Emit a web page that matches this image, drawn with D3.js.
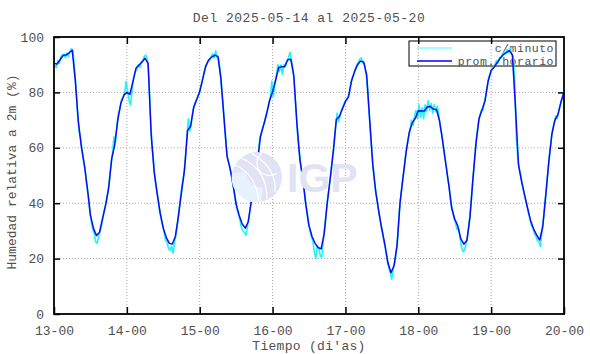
<!DOCTYPE html>
<html>
<head>
<meta charset="utf-8">
<script src="https://cdn.jsdelivr.net/npm/d3@7"></script>
<style>
  body { margin: 0; background: #fff; }
  text { font-family: "Liberation Mono", "DejaVu Sans Mono", monospace; }
</style>
</head>
<body>
<div id="app"></div>
<script>
(function (d3) {
  'use strict'

  // etiquetas de los ejes
  const ticksX = ['13-00', '14-00', '15-00', '16-00', '17-00', '18-00', '19-00', '20-00']
  const ticksY = [0, 20, 40, 60, 80, 100]

  // promedio horario (un valor por hora, 00..23)
  const horario13 = [90.5, 90.2, 91.8, 93.3, 93.5, 94.3, 95.2, 84.5, 69.6, 60.5, 53.8, 45.4, 35.7, 30.9, 28.3, 29.5, 34.5, 39.3, 45.4, 56, 61, 70, 76, 79]
  const horario14 = [80, 79.3, 83.9, 88.7, 89.9, 91, 92.3, 90.5, 65, 51.3, 43.3, 36.3, 31, 27.6, 25.5, 25.3, 28.1, 35.5, 44, 52.1, 66.3, 67.8, 74.5, 77.4]
  const horario15 = [80.2, 85, 89.5, 91.8, 92.8, 93.4, 93, 84.8, 70.8, 57, 52.5, 46.8, 39.6, 35.6, 32.5, 31, 33.3, 40.8, 47.4, 54.7, 63.9, 68, 72, 77]
  const horario16 = [80.2, 84.4, 89, 89.3, 89.3, 91.8, 92, 86, 69, 55.6, 48.5, 39.1, 31.9, 28, 25.5, 24, 23.5, 29, 40, 49, 58.6, 70.2, 71.3, 74]
  const horario17 = [76.7, 78.4, 84, 87.5, 90, 91.3, 91, 86.3, 69.9, 54, 44, 37, 30.5, 25, 18.5, 14.9, 17.4, 24.7, 40.3, 49.6, 58.5, 65.5, 69, 70.6]
  const horario18 = [73.4, 73.3, 73.3, 74.8, 74.9, 73.9, 73.8, 69.7, 62.6, 54.7, 47, 38.2, 34.3, 31.8, 27.2, 25.2, 26.5, 34.7, 48.7, 61.5, 70.5, 73.7, 77, 84]
  const horario19 = [87.9, 89.1, 90.8, 92.4, 93.6, 94.4, 95.1, 93.5, 75, 54, 48, 43.1, 38.2, 33.7, 30.7, 28.5, 26.7, 31.5, 42.9, 55, 64.9, 70, 72, 76.5]
  const horarioFin = [80]

  // datos c/minuto (lecturas a los :15 y :45 de cada hora)
  const minuto13 = [89.8, 89.0, 91.5, 90.5, 92.8, 93.5, 93.8, 92.5, 94.2, 93.0, 94.8, 95.8,
    95.0, 89.0, 81.5, 73.0, 66.0, 63.5, 59.0, 55.0, 52.5, 46.5, 43.0, 37.5,
    33.5, 30.5, 29.0, 26.0, 25.5, 28.5, 30.0, 32.5, 35.5, 38.5, 40.5, 44.0,
    48.5, 53.5, 58.0, 64.0, 62.0, 68.0, 72.5, 74.0, 77.5, 78.0, 79.5, 84.0]
  const minuto14 = [80.5, 77.0, 75.5, 81.5, 85.5, 87.5, 88.0, 90.0, 89.0, 91.0, 91.5, 93.0,
    93.5, 92.0, 85.5, 72.0, 61.0, 55.5, 49.0, 45.5, 42.0, 37.5, 34.5, 32.0,
    29.5, 26.5, 26.0, 23.5, 23.0, 24.5, 22.0, 26.5, 29.0, 33.0, 38.0, 43.0,
    47.0, 50.0, 56.0, 63.5, 70.5, 66.0, 69.0, 73.5, 75.5, 77.0, 78.0, 80.0]
  const minuto15 = [82.0, 83.5, 86.0, 89.0, 90.0, 91.5, 91.5, 93.0, 94.0, 92.5, 95.0, 92.5,
    92.0, 88.0, 81.0, 74.5, 67.0, 60.0, 55.5, 54.0, 51.5, 47.5, 44.5, 41.0,
    38.0, 36.0, 34.0, 31.0, 30.0, 29.5, 28.5, 32.0, 35.5, 39.0, 42.0, 46.0,
    49.5, 52.5, 57.5, 63.5, 65.5, 67.5, 68.5, 71.5, 73.5, 76.0, 78.0, 84.0]
  const minuto16 = [78.5, 83.0, 86.0, 90.0, 87.5, 90.0, 86.5, 90.0, 89.5, 91.5, 92.5, 94.5,
    91.5, 88.0, 81.5, 73.5, 65.0, 59.5, 54.5, 50.5, 46.5, 41.0, 37.5, 33.0,
    30.5, 28.0, 26.5, 22.5, 20.0, 24.5, 23.5, 21.0, 20.5, 27.0, 32.0, 37.5,
    42.5, 47.0, 51.0, 56.5, 61.0, 67.5, 72.5, 69.5, 71.5, 74.0, 75.0, 76.5]
  const minuto17 = [77.5, 78.0, 79.5, 83.5, 85.5, 86.5, 88.5, 90.0, 91.0, 92.0, 92.5, 90.5,
    90.5, 87.0, 82.0, 73.5, 65.5, 58.0, 51.5, 46.0, 42.5, 38.5, 35.0, 32.0,
    29.5, 26.0, 23.0, 19.5, 17.0, 15.0, 12.5, 16.5, 18.5, 22.5, 28.0, 37.0,
    42.5, 47.5, 51.5, 56.5, 60.5, 63.5, 66.0, 70.0, 68.0, 71.5, 73.5, 70.5]
  const minuto18 = [75.5, 71.0, 74.5, 70.5, 75.5, 73.0, 77.0, 73.5, 76.0, 72.5, 75.5, 73.0,
    75.0, 72.0, 67.5, 65.0, 60.5, 56.5, 53.0, 48.5, 45.5, 40.0, 38.0, 34.5,
    33.0, 30.5, 31.0, 27.5, 24.0, 22.5, 23.0, 25.5, 28.0, 33.0, 38.0, 45.5,
    52.0, 58.5, 64.5, 68.5, 71.5, 73.5, 73.5, 76.5, 79.0, 82.5, 85.5, 87.0]
  const minuto19 = [88.5, 89.0, 90.0, 91.5, 90.5, 92.5, 92.5, 94.0, 94.5, 94.0, 95.5, 94.5,
    96.0, 94.0, 93.0, 84.0, 65.0, 56.5, 52.5, 50.0, 47.0, 44.0, 41.5, 39.5,
    36.5, 34.5, 32.0, 31.0, 29.0, 28.0, 26.5, 26.0, 24.5, 30.0, 34.5, 40.5,
    46.0, 52.0, 57.5, 62.5, 66.5, 69.0, 71.5, 70.5, 73.0, 75.5, 77.5, 80.0]

  const horario = [].concat(horario13, horario14, horario15, horario16, horario17, horario18, horario19, horarioFin)
  const minuto = [].concat(minuto13, minuto14, minuto15, minuto16, minuto17, minuto18, minuto19)

  const width = 590
  const height = 354
  const margin = { top: 37, right: 26, bottom: 40, left: 54 }
  const w = width - margin.left - margin.right
  const h = height - margin.top - margin.bottom
  const textColor = '#505050'

  const svg = d3.select('#app')
    .append('svg')
    .attr('width', width)
    .attr('height', height)

  const xScale = d3.scaleLinear().domain([0, 168]).range([0, w])
  const yScale = d3.scaleLinear().domain([0, 100]).range([h, 0])

  const g = svg.append('g')
    .attr('transform', 'translate(' + margin.left + ',' + margin.top + ')')

  // grid
  g.append('g')
    .selectAll('line')
    .data(d3.range(1, ticksX.length - 1))
    .enter()
    .append('line')
    .attr('x1', function (d) { return xScale(d * 24) })
    .attr('x2', function (d) { return xScale(d * 24) })
    .attr('y1', 0)
    .attr('y2', h)
    .style('stroke', '#a8a8a8')
    .style('stroke-dasharray', '1,2')
  g.append('g')
    .selectAll('line')
    .data(ticksY.slice(1, -1))
    .enter()
    .append('line')
    .attr('x1', 0)
    .attr('x2', w)
    .attr('y1', function (d) { return yScale(d) })
    .attr('y2', function (d) { return yScale(d) })
    .style('stroke', '#a8a8a8')
    .style('stroke-dasharray', '1,2')

  // marca de agua IGP
  const logo = svg.append('g').attr('transform', 'translate(257,177)')
  logo.append('circle').attr('r', 25).style('fill', '#e2e2f5')
  logo.append('path')
    .attr('d', 'M-25,-4 A25,25 0 0,0 4,25 L6,10 A14,14 0 0,1 -10,-6 Z')
    .style('fill', '#e8f2ff')
  logo.append('path')
    .attr('d', 'M-22,-12 Q-2,-4 2,24 M-16,-19 Q10,-8 10,22 M-6,-24 Q20,-10 18,15')
    .style('fill', 'none')
    .style('stroke', '#fff')
    .style('stroke-width', 1.2)
  logo.append('path')
    .attr('d', 'M5,-24 A12,12 0 0,0 20,-4')
    .style('fill', 'none')
    .style('stroke', '#fff')
    .style('stroke-width', 1.2)
  svg.append('text')
    .attr('x', 287)
    .attr('y', 192)
    .style('font-family', '"Liberation Sans", Arial, sans-serif')
    .style('font-weight', 'bold')
    .style('font-size', '41px')
    .style('fill', '#e2e2f5')
    .text('IGP')

  // leyenda
  const legend = g.append('g')
  legend.append('rect')
    .attr('x', 355)
    .attr('y', 4)
    .attr('width', 147)
    .attr('height', 25)
    .style('fill', 'none')
    .style('stroke', '#000')
    .style('stroke-width', 1)
  const items = [['c/minuto', '#40ffff'], ['prom. horario', '#0000ff']]
  items.forEach(function (it, i) {
    legend.append('line')
      .attr('x1', 363).attr('x2', 398)
      .attr('y1', 11 + i * 13).attr('y2', 11 + i * 13)
      .style('stroke', it[1])
      .style('stroke-width', i === 0 ? 1 : 1.5)
    legend.append('text')
      .attr('x', 500)
      .attr('y', 14.5 + i * 13)
      .attr('text-anchor', 'end')
      .style('font-size', '11.5px')
      .style('letter-spacing', '0.5px')
      .style('fill', textColor)
      .text(it[0])
  })

  // series
  const lineMin = d3.line()
    .x(function (d, i) { return xScale(Math.floor(i / 2) + (i % 2 === 0 ? 0.25 : 0.75)) })
    .y(function (d) { return yScale(d) })
  g.append('path')
    .datum(minuto)
    .attr('d', lineMin)
    .style('fill', 'none')
    .style('stroke', '#22f4f4')
    .style('stroke-width', 1.6)
    .style('stroke-linejoin', 'round')

  const lineHor = d3.line()
    .x(function (d, i) { return xScale(i) })
    .y(function (d) { return yScale(d) })
  g.append('path')
    .datum(horario)
    .attr('d', lineHor)
    .style('fill', 'none')
    .style('stroke', '#0a0af5')
    .style('stroke-width', 1.5)
    .style('stroke-linejoin', 'round')

  // ejes (ticks hacia adentro en los cuatro lados)
  const styleAxis = function (sel) {
    sel.select('.domain').remove()
    sel.selectAll('.tick line').style('stroke', '#000').style('stroke-width', 1.5)
    sel.selectAll('.tick text')
      .style('font-family', '"Liberation Mono", monospace')
      .style('font-size', '13px')
      .style('fill', textColor)
  }
  const xAxis = d3.axisBottom(xScale)
    .tickValues(d3.range(0, 169, 24))
    .tickFormat(function (d, i) { return ticksX[i] })
    .tickSize(-7)
    .tickPadding(12)
  g.append('g')
    .attr('transform', 'translate(0,' + h + ')')
    .call(xAxis)
    .call(styleAxis)
  g.append('g')
    .call(d3.axisTop(xScale).tickValues(d3.range(24, 168, 24)).tickSize(-7).tickFormat(''))
    .call(styleAxis)

  const yAxis = d3.axisLeft(yScale)
    .tickValues(ticksY)
    .tickSize(-6)
    .tickPadding(10)
  g.append('g')
    .call(yAxis)
    .call(styleAxis)
  g.append('g')
    .attr('transform', 'translate(' + w + ',0)')
    .call(d3.axisRight(yScale).tickValues(ticksY.slice(1, -1)).tickSize(-6).tickFormat(''))
    .call(styleAxis)

  g.append('rect')
    .attr('width', w)
    .attr('height', h)
    .style('fill', 'none')
    .style('stroke', '#000')
    .style('stroke-width', 1.8)

  // titulos
  svg.append('text')
    .attr('x', margin.left + w / 2)
    .attr('y', 22)
    .attr('text-anchor', 'middle')
    .style('font-size', '13px')
    .style('letter-spacing', '0.5px')
    .style('fill', textColor)
    .text('Del 2025-05-14 al 2025-05-20')

  svg.append('text')
    .attr('x', margin.left + w / 2)
    .attr('y', 350)
    .attr('text-anchor', 'middle')
    .style('font-size', '13px')
    .style('letter-spacing', '0.3px')
    .style('fill', textColor)
    .text("Tiempo (di'as)")

  svg.append('text')
    .attr('transform', 'translate(16,172) rotate(-90)')
    .attr('text-anchor', 'middle')
    .style('font-size', '13px')
    .style('fill', textColor)
    .text('Humedad relativa a 2m (%)')

})(d3)
</script>
</body>
</html>
